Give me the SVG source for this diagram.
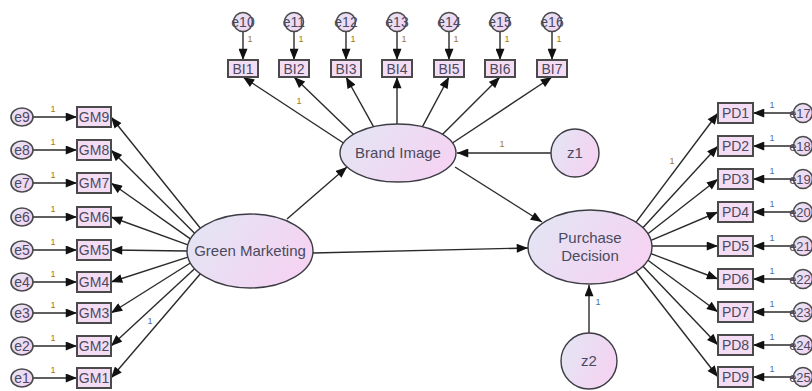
<svg xmlns="http://www.w3.org/2000/svg" width="812" height="391" viewBox="0 0 812 391">
<style>
text{font-family:"Liberation Sans",Arial,sans-serif;fill:#4a4a5e;text-anchor:middle}
.lat{fill:url(#g);stroke:#3c3c44;stroke-width:1.4}
.box{fill:#f4dcf4;stroke:#4a4a4a;stroke-width:2}
.err{fill:url(#g);stroke:#4a4a4a;stroke-width:1.6}
.lt{font-size:15px}
.bt{font-size:14px}
.et{font-size:14px}
.er{font-size:13px}
.one{font-size:9px}
.o{fill:#a07818}
.b{fill:#4a70a8}
.c line{stroke:#2a2a2a;stroke-width:1.4;marker-end:url(#ah)}
</style>
<defs>
<linearGradient id="g" x1="0" y1="0" x2="1" y2="0.4">
<stop offset="0" stop-color="#e2e6f4"/>
<stop offset="1" stop-color="#f4d4f2"/>
</linearGradient>
<marker id="ah" viewBox="0 0 10 8" refX="10" refY="4" markerWidth="12" markerHeight="9" markerUnits="userSpaceOnUse" orient="auto">
<path d="M0,0 L10,4 L0,8 z" fill="#111"/>
</marker>
</defs>
<rect width="812" height="391" fill="#ffffff"/>

<g id="connectors" class="c">
<line x1="287" y1="219" x2="347" y2="167"/>
<line x1="313" y1="253" x2="528" y2="248"/>
<line x1="455" y1="167" x2="542" y2="222"/>
<line x1="551" y1="153" x2="457" y2="153"/>
<line x1="589" y1="333" x2="589" y2="285"/>
<line x1="343.5" y1="143" x2="243" y2="77"/>
<line x1="353.6" y1="134.4" x2="294" y2="77"/>
<line x1="373.5" y1="126.7" x2="346" y2="77"/>
<line x1="397" y1="124" x2="397" y2="77"/>
<line x1="422.5" y1="126.7" x2="449" y2="77"/>
<line x1="442.4" y1="134.4" x2="500" y2="77"/>
<line x1="452.5" y1="143" x2="552" y2="77"/>
<line x1="243" y1="31.5" x2="243" y2="60"/>
<line x1="294" y1="31.5" x2="294" y2="60"/>
<line x1="346" y1="31.5" x2="346" y2="60"/>
<line x1="397" y1="31.5" x2="397" y2="60"/>
<line x1="449" y1="31.5" x2="449" y2="60"/>
<line x1="500" y1="31.5" x2="500" y2="60"/>
<line x1="552" y1="31.5" x2="552" y2="60"/>
<line x1="200.4" y1="228.2" x2="111" y2="117"/>
<line x1="194.6" y1="233.3" x2="111" y2="150"/>
<line x1="190.4" y1="238.9" x2="111" y2="183"/>
<line x1="187.9" y1="244.9" x2="111" y2="217"/>
<line x1="187" y1="251" x2="111" y2="250"/>
<line x1="187.9" y1="257.1" x2="111" y2="282"/>
<line x1="190.4" y1="263" x2="111" y2="313"/>
<line x1="194.6" y1="268.7" x2="111" y2="346"/>
<line x1="200.4" y1="273.8" x2="111" y2="378"/>
<line x1="33" y1="117" x2="77" y2="117"/>
<line x1="33" y1="150" x2="77" y2="150"/>
<line x1="33" y1="183" x2="77" y2="183"/>
<line x1="33" y1="217" x2="77" y2="217"/>
<line x1="33" y1="250" x2="77" y2="250"/>
<line x1="33" y1="282" x2="77" y2="282"/>
<line x1="33" y1="313" x2="77" y2="313"/>
<line x1="33" y1="346" x2="77" y2="346"/>
<line x1="33" y1="378" x2="77" y2="378"/>
<line x1="636.1" y1="222.2" x2="718" y2="113"/>
<line x1="642.9" y1="227.7" x2="718" y2="146"/>
<line x1="647.9" y1="233.8" x2="718" y2="179"/>
<line x1="651" y1="240.3" x2="718" y2="212"/>
<line x1="652" y1="246" x2="718" y2="246"/>
<line x1="651" y1="253.7" x2="718" y2="279"/>
<line x1="647.9" y1="260.2" x2="718" y2="312"/>
<line x1="642.9" y1="266.3" x2="718" y2="345"/>
<line x1="636.1" y1="271.8" x2="718" y2="377"/>
<line x1="793.5" y1="113" x2="753" y2="113"/>
<line x1="793.5" y1="146" x2="753" y2="146"/>
<line x1="793.5" y1="179" x2="753" y2="179"/>
<line x1="793.5" y1="212" x2="753" y2="212"/>
<line x1="793.5" y1="246" x2="753" y2="246"/>
<line x1="793.5" y1="279" x2="753" y2="279"/>
<line x1="793.5" y1="312" x2="753" y2="312"/>
<line x1="793.5" y1="345" x2="753" y2="345"/>
<line x1="793.5" y1="377" x2="753" y2="377"/>
</g>

<g id="labels-one" class="one">
<text class="o" x="299" y="104">1</text>
<text class="o" x="502" y="147">1</text>
<text class="b" x="150" y="324">1</text>
<text class="o" x="672" y="164">1</text>
<text class="b" x="598" y="305">1</text>
<text class="o" x="250" y="42">1</text>
<text class="o" x="301" y="42">1</text>
<text class="o" x="353" y="42">1</text>
<text class="o" x="404" y="42">1</text>
<text class="o" x="456" y="42">1</text>
<text class="o" x="507" y="42">1</text>
<text class="o" x="559" y="42">1</text>
<text class="o" x="53" y="112">1</text>
<text class="o" x="53" y="145">1</text>
<text class="o" x="53" y="178">1</text>
<text class="o" x="53" y="212">1</text>
<text class="o" x="53" y="245">1</text>
<text class="o" x="53" y="277">1</text>
<text class="o" x="53" y="308">1</text>
<text class="o" x="53" y="341">1</text>
<text class="o" x="53" y="373">1</text>
<text class="b" x="772" y="108">1</text>
<text class="b" x="772" y="141">1</text>
<text class="b" x="772" y="174">1</text>
<text class="b" x="772" y="207">1</text>
<text class="b" x="772" y="241">1</text>
<text class="b" x="772" y="274">1</text>
<text class="b" x="772" y="307">1</text>
<text class="b" x="772" y="340">1</text>
<text class="b" x="772" y="372">1</text>
</g>

<g id="green-marketing"><ellipse class="lat" cx="250" cy="251" rx="63" ry="37"/><text class="lt" x="250" y="256">Green Marketing</text></g>
<g id="brand-image"><ellipse class="lat" cx="398" cy="153" rx="58" ry="29"/><text class="lt" x="398" y="158">Brand Image</text></g>
<g id="purchase-decision"><ellipse class="lat" cx="590" cy="247" rx="62" ry="37"/><text class="lt" x="590" y="243">Purchase</text><text class="lt" x="590" y="261">Decision</text></g>
<g id="z1"><circle class="lat" cx="575" cy="153" r="24"/><text class="lt" x="575" y="158">z1</text></g>
<g id="z2"><circle class="lat" cx="589" cy="361" r="28"/><text class="lt" x="589" y="366">z2</text></g>

<g id="BI1"><rect class="box" x="228" y="60" width="30" height="17"/><text class="bt" x="243" y="73.5">BI1</text></g>
<g id="BI2"><rect class="box" x="279" y="60" width="30" height="17"/><text class="bt" x="294" y="73.5">BI2</text></g>
<g id="BI3"><rect class="box" x="331" y="60" width="30" height="17"/><text class="bt" x="346" y="73.5">BI3</text></g>
<g id="BI4"><rect class="box" x="382" y="60" width="30" height="17"/><text class="bt" x="397" y="73.5">BI4</text></g>
<g id="BI5"><rect class="box" x="434" y="60" width="30" height="17"/><text class="bt" x="449" y="73.5">BI5</text></g>
<g id="BI6"><rect class="box" x="485" y="60" width="30" height="17"/><text class="bt" x="500" y="73.5">BI6</text></g>
<g id="BI7"><rect class="box" x="537" y="60" width="30" height="17"/><text class="bt" x="552" y="73.5">BI7</text></g>

<g id="e10"><circle class="err" cx="243" cy="22" r="9.5"/><text class="et" x="243" y="27">e10</text></g>
<g id="e11"><circle class="err" cx="294" cy="22" r="9.5"/><text class="et" x="294" y="27">e11</text></g>
<g id="e12"><circle class="err" cx="346" cy="22" r="9.5"/><text class="et" x="346" y="27">e12</text></g>
<g id="e13"><circle class="err" cx="397" cy="22" r="9.5"/><text class="et" x="397" y="27">e13</text></g>
<g id="e14"><circle class="err" cx="449" cy="22" r="9.5"/><text class="et" x="449" y="27">e14</text></g>
<g id="e15"><circle class="err" cx="500" cy="22" r="9.5"/><text class="et" x="500" y="27">e15</text></g>
<g id="e16"><circle class="err" cx="552" cy="22" r="9.5"/><text class="et" x="552" y="27">e16</text></g>

<g id="GM9"><rect class="box" x="77" y="107" width="34" height="20"/><text class="bt" x="94" y="122">GM9</text></g>
<g id="GM8"><rect class="box" x="77" y="140" width="34" height="20"/><text class="bt" x="94" y="155">GM8</text></g>
<g id="GM7"><rect class="box" x="77" y="173" width="34" height="20"/><text class="bt" x="94" y="188">GM7</text></g>
<g id="GM6"><rect class="box" x="77" y="207" width="34" height="20"/><text class="bt" x="94" y="222">GM6</text></g>
<g id="GM5"><rect class="box" x="77" y="240" width="34" height="20"/><text class="bt" x="94" y="255">GM5</text></g>
<g id="GM4"><rect class="box" x="77" y="272" width="34" height="20"/><text class="bt" x="94" y="287">GM4</text></g>
<g id="GM3"><rect class="box" x="77" y="303" width="34" height="20"/><text class="bt" x="94" y="318">GM3</text></g>
<g id="GM2"><rect class="box" x="77" y="336" width="34" height="20"/><text class="bt" x="94" y="351">GM2</text></g>
<g id="GM1"><rect class="box" x="77" y="368" width="34" height="20"/><text class="bt" x="94" y="383">GM1</text></g>

<g id="e9"><ellipse class="err" cx="22" cy="117" rx="11" ry="9"/><text class="et" x="22" y="122">e9</text></g>
<g id="e8"><ellipse class="err" cx="22" cy="150" rx="11" ry="9"/><text class="et" x="22" y="155">e8</text></g>
<g id="e7"><ellipse class="err" cx="22" cy="183" rx="11" ry="9"/><text class="et" x="22" y="188">e7</text></g>
<g id="e6"><ellipse class="err" cx="22" cy="217" rx="11" ry="9"/><text class="et" x="22" y="222">e6</text></g>
<g id="e5"><ellipse class="err" cx="22" cy="250" rx="11" ry="9"/><text class="et" x="22" y="255">e5</text></g>
<g id="e4"><ellipse class="err" cx="22" cy="282" rx="11" ry="9"/><text class="et" x="22" y="287">e4</text></g>
<g id="e3"><ellipse class="err" cx="22" cy="313" rx="11" ry="9"/><text class="et" x="22" y="318">e3</text></g>
<g id="e2"><ellipse class="err" cx="22" cy="346" rx="11" ry="9"/><text class="et" x="22" y="351">e2</text></g>
<g id="e1"><ellipse class="err" cx="22" cy="378" rx="11" ry="9"/><text class="et" x="22" y="383">e1</text></g>

<g id="PD1"><rect class="box" x="718" y="103" width="35" height="20"/><text class="bt" x="735.5" y="118">PD1</text></g>
<g id="PD2"><rect class="box" x="718" y="136" width="35" height="20"/><text class="bt" x="735.5" y="151">PD2</text></g>
<g id="PD3"><rect class="box" x="718" y="169" width="35" height="20"/><text class="bt" x="735.5" y="184">PD3</text></g>
<g id="PD4"><rect class="box" x="718" y="202" width="35" height="20"/><text class="bt" x="735.5" y="217">PD4</text></g>
<g id="PD5"><rect class="box" x="718" y="236" width="35" height="20"/><text class="bt" x="735.5" y="251">PD5</text></g>
<g id="PD6"><rect class="box" x="718" y="269" width="35" height="20"/><text class="bt" x="735.5" y="284">PD6</text></g>
<g id="PD7"><rect class="box" x="718" y="302" width="35" height="20"/><text class="bt" x="735.5" y="317">PD7</text></g>
<g id="PD8"><rect class="box" x="718" y="335" width="35" height="20"/><text class="bt" x="735.5" y="350">PD8</text></g>
<g id="PD9"><rect class="box" x="718" y="367" width="35" height="20"/><text class="bt" x="735.5" y="382">PD9</text></g>

<g id="e17"><circle class="err" cx="803" cy="113" r="9.5"/><text class="er" x="800" y="118">e17</text></g>
<g id="e18"><circle class="err" cx="803" cy="146" r="9.5"/><text class="er" x="800" y="151">e18</text></g>
<g id="e19"><circle class="err" cx="803" cy="179" r="9.5"/><text class="er" x="800" y="184">e19</text></g>
<g id="e20"><circle class="err" cx="803" cy="212" r="9.5"/><text class="er" x="800" y="217">e20</text></g>
<g id="e21"><circle class="err" cx="803" cy="246" r="9.5"/><text class="er" x="800" y="251">e21</text></g>
<g id="e22"><circle class="err" cx="803" cy="279" r="9.5"/><text class="er" x="800" y="284">e22</text></g>
<g id="e23"><circle class="err" cx="803" cy="312" r="9.5"/><text class="er" x="800" y="317">e23</text></g>
<g id="e24"><circle class="err" cx="803" cy="345" r="9.5"/><text class="er" x="800" y="350">e24</text></g>
<g id="e25"><circle class="err" cx="803" cy="377" r="9.5"/><text class="er" x="800" y="382">e25</text></g>
</svg>
